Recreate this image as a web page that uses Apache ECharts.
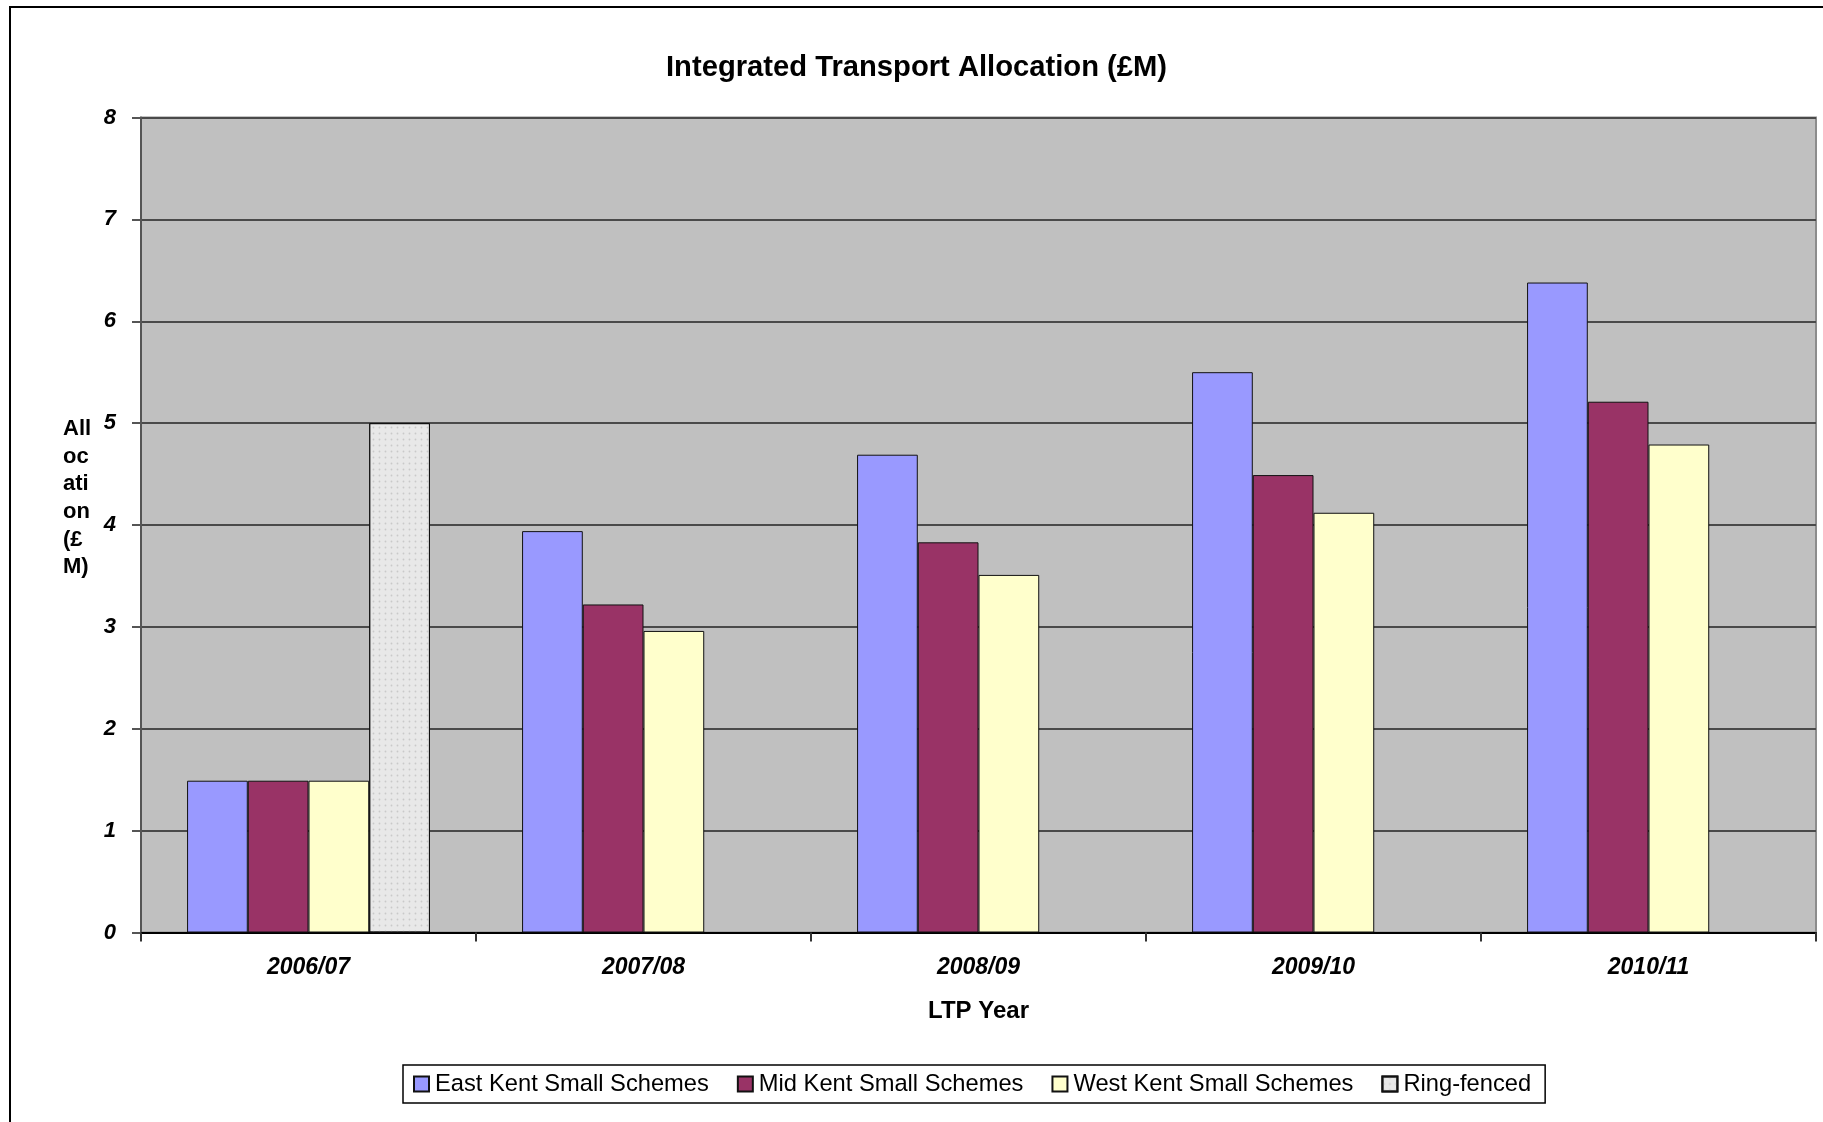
<!DOCTYPE html>
<html>
<head>
<meta charset="utf-8">
<script src="https://cdn.jsdelivr.net/npm/echarts@6/dist/echarts.min.js"></script>
<style>
html,body{margin:0;padding:0;background:#fff;}
#chart{width:1823px;height:1122px;}
</style>
</head>
<body>
<div id="chart"></div>
<script>
const categories = ['2006/07', '2007/08', '2008/09', '2009/10', '2010/11'];
const eastKent = [1.49, 3.94, 4.69, 5.50, 6.38];
const midKent = [1.49, 3.22, 3.83, 4.49, 5.21];
const westKent = [1.49, 2.96, 3.51, 4.12, 4.79];
const ringFenced = [5.00, null, null, null, null];
const seriesNames = ['East Kent Small Schemes', 'Mid Kent Small Schemes', 'West Kent Small Schemes', 'Ring-fenced'];
const yTicks = [0, 1, 2, 3, 4, 5, 6, 7, 8];

const FONT = '"Liberation Sans", Arial, sans-serif';
const chart = echarts.init(document.getElementById('chart'), null, {renderer: 'canvas'});

function bar(name, data, color, extra) {
  return Object.assign({
    name: name,
    type: 'bar',
    data: data,
    barGap: '0%',
    barCategoryGap: '27.5%',
    itemStyle: {color: color, borderColor: '#111', borderWidth: 1}
  }, extra || {});
}

chart.setOption({
  animation: false,
  backgroundColor: '#ffffff',
  title: {
    text: 'Integrated Transport Allocation (£M)',
    left: 666, top: 53, padding: 0,
    textStyle: {fontFamily: FONT, fontSize: 29.2, fontWeight: 'bold', color: '#000'}
  },
  graphic: [
    {type: 'rect', z: -10, shape: {x: 10, y: 7, width: 1900, height: 1300},
     style: {fill: 'none', stroke: '#000', lineWidth: 2}},
    {type: 'text', left: 63, top: 415,
     style: {text: 'All\noc\nati\non\n(£\nM)', font: 'bold 22px ' + FONT, fill: '#000', lineHeight: 27.7}}
  ],
  legend: {
    left: 403, top: 1065,
    orient: 'horizontal',
    padding: [7, 14, 7, 10],
    itemGap: 28,
    itemWidth: 15, itemHeight: 15,
    borderColor: '#000', borderWidth: 1.5,
    backgroundColor: '#fff',
    icon: 'rect',
    textStyle: {fontFamily: FONT, fontSize: 23.7, color: '#000', padding: [0, 0, 0, 1]},
    data: seriesNames
  },
  grid: {
    left: 141, right: 7, top: 117.5, bottom: 189.5,
    show: true, backgroundColor: '#C0C0C0', borderColor: '#8c8c8c', borderWidth: 2
  },
  xAxis: {
    type: 'category',
    data: categories,
    axisLine: {show: true, lineStyle: {color: '#000', width: 2}},
    axisTick: {show: true, length: 9, interval: 0, lineStyle: {color: '#333', width: 2}},
    axisLabel: {fontFamily: FONT, fontSize: 23, fontWeight: 'bold', fontStyle: 'italic', color: '#000', margin: 24},
    name: 'LTP Year',
    nameLocation: 'middle',
    nameGap: 67,
    nameTextStyle: {fontFamily: FONT, fontSize: 24, fontWeight: 'bold', color: '#000'}
  },
  yAxis: {
    type: 'value',
    min: yTicks[0], max: yTicks[yTicks.length - 1], interval: 1,
    axisLine: {show: true, lineStyle: {color: '#555', width: 2}},
    axisTick: {show: true, length: 9, lineStyle: {color: '#555', width: 2}},
    axisLabel: {fontFamily: FONT, fontSize: 22, fontWeight: 'bold', fontStyle: 'italic', color: '#000', margin: 25},
    splitLine: {show: true, lineStyle: {color: '#4a4a4a', width: 2}}
  },
  series: [
    bar(seriesNames[0], eastKent, '#9999FF'),
    bar(seriesNames[1], midKent, '#993366'),
    bar(seriesNames[2], westKent, '#FFFFCC'),
    bar(seriesNames[3], ringFenced, '#E6E6E6', {
      itemStyle: {
        color: '#E8E8E8', borderColor: '#111', borderWidth: 1,
        decal: {symbol: 'circle', symbolSize: 0.6, dashArrayX: [[3, 3]], dashArrayY: [3, 3], color: 'rgba(175,175,175,0.55)'}
      }
    })
  ]
});
</script>
</body>
</html>
